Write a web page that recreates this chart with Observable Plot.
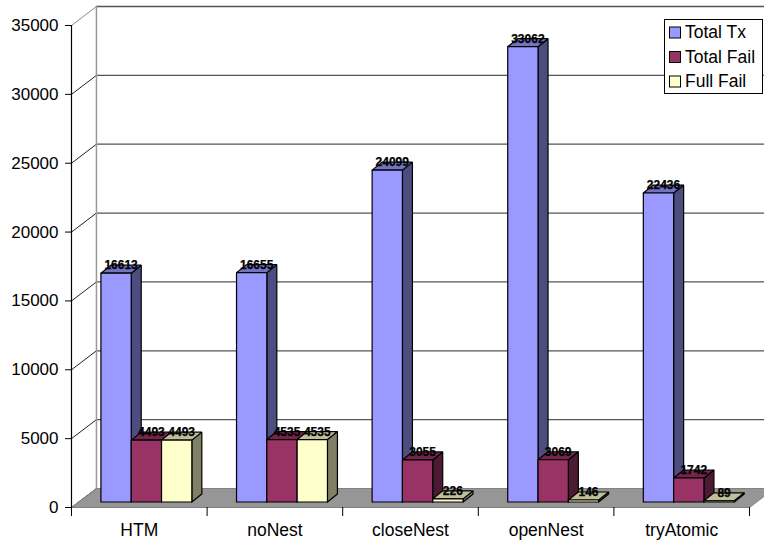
<!DOCTYPE html>
<html>
<head>
<meta charset="utf-8">
<style>
  html, body { margin: 0; padding: 0; background: #fff; }
</style>
<script src="https://cdn.jsdelivr.net/npm/d3@7"></script>
<script src="https://cdn.jsdelivr.net/npm/@observablehq/plot@0.6"></script>
</head>
<body>
<div id="chart"></div>
<script>
// Transaction counts per nesting strategy
const categories = ["HTM", "noNest", "closeNest", "openNest", "tryAtomic"];
const totalTx   = [16613, 16655, 24099, 33062, 22436];
const totalFail = [4493, 4535, 3055, 3069, 1742];
const fullFail  = [4493, 4535, 226, 146, 89];
const seriesNames = ["Total Tx", "Total Fail", "Full Fail"];
const yTicks = [0, 5000, 10000, 15000, 20000, 25000, 30000, 35000];
const xTicks = [0, 1, 2, 3, 4, 5];

// Face colours: front, side (darkest), top
const fronts = ["#9999ff", "#993366", "#ffffcc"];
const sides  = ["#4d4d80", "#4d1a33", "#808066"];
const tops   = ["#7373bf", "#732648", "#bfbf99"];

const fontFamily = "'Liberation Sans', Arial, sans-serif";

// Oblique projection constants, in scale units (categories, transactions)
const wallDx = 0.184, wallDy = 1380;   // depth of the floor and side wall
const barDx = 0.0737, barDy = 580;     // depth of one column
const barLift = 400;                   // columns stand a little behind the floor's front edge
const barStart = 0.217, barWidth = 0.2235;
const labelLift = 570;

const seriesValues = [totalTx, totalFail, fullFail];

// Each face is a closed outline drawn as a filled line, painted back to front
const faces = [];
categories.forEach((cat, i) => {
  seriesValues.forEach((values, s) => {
    const x0 = i + barStart + s * barWidth, x1 = x0 + barWidth;
    const b = barLift, t = values[i] + barLift;
    const add = (name, color, pts) => {
      [...pts, pts[0]].forEach(([x, y]) => faces.push({id: `${cat}-${s}-${name}`, color, x, y}));
    };
    add("side", sides[s], [[x1, b], [x1 + barDx, b + barDy], [x1 + barDx, t + barDy], [x1, t]]);
    add("top", tops[s], [[x0, t], [x1, t], [x1 + barDx, t + barDy], [x0 + barDx, t + barDy]]);
    add("front", fronts[s], [[x0, b], [x1, b], [x1, t], [x0, t]]);
  });
});

const labels = [];
categories.forEach((cat, i) => {
  seriesValues.forEach((values, s) => {
    labels.push({
      x: i + barStart + (s + 0.5) * barWidth + barDx / 2,
      y: values[i] + barLift + labelLift,
      text: String(values[i])
    });
  });
});

const floor = [[0, 0], [5, 0], [5 + wallDx, wallDy], [wallDx, wallDy], [0, 0]].map(([x, y]) => ({x, y}));

// Legend box sits over the plot's top-right corner
function legend(index, scales, channels, dims) {
  const g = d3.create("svg:g")
    .attr("font-family", fontFamily)
    .attr("font-size", 17.5)
    .attr("text-anchor", "start");
  g.append("rect").attr("x", 664.5).attr("y", 19.5).attr("width", 98).attr("height", 74)
    .attr("fill", "#fff").attr("stroke", "#000").attr("stroke-width", 1);
  seriesNames.forEach((name, i) => {
    const cy = 32.5 + i * 24.5;
    g.append("rect").attr("x", 669.5).attr("y", cy - 5.5).attr("width", 11).attr("height", 11)
      .attr("fill", fronts[i]).attr("stroke", "#000").attr("stroke-width", 1);
    g.append("text").attr("x", 685).attr("y", cy + 5.5).attr("fill", "#000").text(name);
  });
  return g.node();
}

const chart = Plot.plot({
  width: 764,
  height: 540,
  marginLeft: 71,
  marginRight: 15,
  marginTop: 25,
  marginBottom: 33,
  style: {fontFamily, background: "#fff", overflow: "hidden"},
  x: {type: "linear", domain: [0, 5]},
  y: {type: "linear", domain: [0, 35000]},
  color: {type: "identity"},
  marks: [
    // Back wall gridlines and their returns along the side wall
    Plot.ruleY(yTicks.slice(1), {y: d => d + wallDy, x1: wallDx, x2: 5.3, stroke: "#555", strokeWidth: 1.3}),
    Plot.link(yTicks, {x1: 0, y1: d => d, x2: wallDx, y2: d => d + wallDy, stroke: d => d === 35000 ? "#888" : "#222", strokeWidth: 1}),
    Plot.ruleX([wallDx], {y1: wallDy, y2: 35000 + wallDy, stroke: "#999", strokeWidth: 1.5}),
    Plot.line(floor, {x: "x", y: "y", fill: "#969696", stroke: "#808080", strokeWidth: 1}),
    Plot.ruleX([0], {y1: 0, y2: 35000, stroke: "#000", strokeWidth: 1.2}),
    Plot.axisY({
      ticks: yTicks, tickSize: 6, tickPadding: 7, tickFormat: "d", label: null,
      fontSize: 17, fill: "#000", stroke: "#000"
    }),
    Plot.axisX({ticks: xTicks, tickSize: 9, tickFormat: () => null, label: null, stroke: "#000"}),
    Plot.axisX({
      ticks: categories.map((_, i) => i + 0.5), tickSize: 0, tickPadding: 16,
      tickFormat: d => categories[d - 0.5], label: null, fontSize: 17.5, fill: "#000"
    }),
    // Columns
    Plot.line(faces, {x: "x", y: "y", z: "id", fill: "color", stroke: "#000", strokeWidth: 1.2, strokeLinejoin: "miter"}),
    Plot.text(labels, {x: "x", y: "y", text: "text", fontSize: 12, fontWeight: "bold", fill: "#000", stroke: "#000", strokeWidth: 0.25, textAnchor: "middle"}),
    legend
  ]
});

document.getElementById("chart").append(chart);
</script>
</body>
</html>
